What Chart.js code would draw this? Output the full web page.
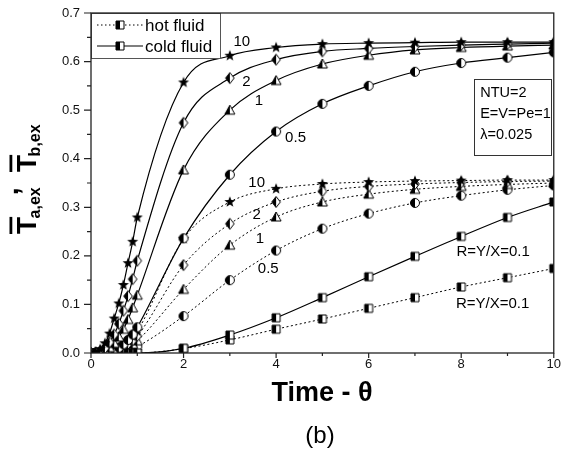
<!DOCTYPE html>
<html><head><meta charset="utf-8">
<script src="https://cdn.jsdelivr.net/npm/chart.js@4"></script>
<style>html,body{margin:0;padding:0;background:#fff}#wrap{width:561px;height:457px;position:relative}</style>
</head><body><div id="wrap"><canvas id="c" width="561" height="457"></canvas></div>
<script>
// ---- data ----
const timeValues = [0,0.1,0.2,0.3,0.4,0.5,0.6,0.7,0.8,0.9,1,2,3,4,5,6,7,8,9,10];
const coldR10  = [0,0.002,0.008,0.020,0.040,0.071,0.102,0.140,0.185,0.229,0.279,0.557,0.612,0.629,0.636,0.638,0.639,0.640,0.640,0.640];
const coldR2   = [0,0.001,0.004,0.010,0.022,0.038,0.060,0.087,0.117,0.152,0.190,0.474,0.566,0.604,0.621,0.627,0.631,0.634,0.636,0.638];
const coldR1   = [0,0,0.002,0.005,0.011,0.020,0.033,0.049,0.069,0.093,0.119,0.377,0.500,0.561,0.595,0.613,0.624,0.629,0.632,0.634];
const coldR05  = [0,0,0.001,0.002,0.004,0.007,0.011,0.018,0.027,0.038,0.053,0.236,0.367,0.456,0.513,0.550,0.579,0.597,0.608,0.619];
const coldR01  = [0,0,0,0,0,0,0,0,0,0,0,0.0096,0.037,0.0725,0.114,0.157,0.199,0.240,0.279,0.311];
const hotR10   = [0,0,0.001,0.002,0.004,0.007,0.011,0.017,0.025,0.034,0.045,0.235,0.311,0.338,0.348,0.352,0.354,0.355,0.356,0.356];
const hotR2    = [0,0,0,0.001,0.003,0.005,0.008,0.013,0.019,0.026,0.035,0.181,0.266,0.311,0.333,0.343,0.348,0.351,0.353,0.354];
const hotR1    = [0,0,0,0.001,0.002,0.003,0.005,0.008,0.012,0.018,0.025,0.131,0.222,0.280,0.311,0.327,0.337,0.343,0.347,0.350];
const hotR05   = [0,0,0,0,0.001,0.002,0.003,0.004,0.006,0.009,0.013,0.076,0.150,0.211,0.256,0.287,0.309,0.324,0.336,0.345];
const hotR01   = [0,0,0,0,0,0,0,0,0,0,0,0.009,0.027,0.049,0.070,0.092,0.114,0.136,0.155,0.174];
const xTickLabels = [0,2,4,6,8,10];
const yTickLabels = [0,0.1,0.2,0.3,0.4,0.5,0.6,0.7];
const legendLabels = ['hot fluid','cold fluid'];
const infoLines = ['NTU=2','E=V=Pe=1','\u03BB=0.025'];

// ---- markers ----
function marker(type){
  const S=14, c=7;
  const cv=document.createElement('canvas'); cv.width=S; cv.height=S;
  const g=cv.getContext('2d');
  g.lineWidth=1; g.strokeStyle='#000';
  let path;
  if(type==='star'){
    g.beginPath();
    for(let i=0;i<10;i++){
      const r=i%2?2.4:5.8, a=-Math.PI/2+i*Math.PI/5;
      const px=c+r*Math.cos(a), py=c+r*Math.sin(a);
      i?g.lineTo(px,py):g.moveTo(px,py);
    }
    g.closePath(); g.fillStyle='#000'; g.fill();
    return cv;
  }
  if(type==='diamond') path=()=>{g.beginPath();g.moveTo(c,c-5.5);g.lineTo(c+4.3,c);g.lineTo(c,c+5.5);g.lineTo(c-4.3,c);g.closePath();};
  if(type==='triangle') path=()=>{g.beginPath();g.moveTo(c,c-5);g.lineTo(c+5,c+4);g.lineTo(c-5,c+4);g.closePath();};
  if(type==='circle') path=()=>{g.beginPath();g.arc(c,c,4.5,0,Math.PI*2);};
  if(type==='square') path=()=>{g.beginPath();g.rect(c-4,c-4,8,8);};
  path(); g.fillStyle='#fff'; g.fill();
  g.save(); g.beginPath(); g.rect(0,0,c,S); g.clip(); path(); g.fillStyle='#000'; g.fill(); g.restore();
  path(); g.stroke();
  return cv;
}
const M={star:marker('star'),diamond:marker('diamond'),triangle:marker('triangle'),circle:marker('circle'),square:marker('square')};

function ds(label, vals, mk, hot){
  return {
    label, data: timeValues.map((t,i)=>({x:t,y:vals[i]})),
    borderColor:'#000', borderWidth: hot?1:1.2, borderDash: hot?[2,2.5]:[],
    pointStyle: M[mk], pointRadius:5, pointHoverRadius:5,
    cubicInterpolationMode:'monotone', fill:false
  };
}
const datasets=[
  ds('cold 10',coldR10,'star',false), ds('cold 2',coldR2,'diamond',false),
  ds('cold 1',coldR1,'triangle',false), ds('cold 0.5',coldR05,'circle',false),
  ds('cold fluid',coldR01,'square',false),
  ds('hot 10',hotR10,'star',true), ds('hot 2',hotR2,'diamond',true),
  ds('hot 1',hotR1,'triangle',true), ds('hot 0.5',hotR05,'circle',true),
  ds('hot fluid',hotR01,'square',true)
];

// curve labels in data coordinates
const curveLabels=[
  {t:'10',x:3.26,y:0.640},{t:'2',x:3.36,y:0.559},{t:'1',x:3.63,y:0.520},{t:'0.5',x:4.42,y:0.443},
  {t:'10',x:3.58,y:0.351},{t:'2',x:3.58,y:0.284},{t:'1',x:3.65,y:0.236},{t:'0.5',x:3.83,y:0.174},
  {t:'R=Y/X=0.1',x:8.69,y:0.208},{t:'R=Y/X=0.1',x:8.68,y:0.101}
];

const overlay={
  id:'overlay',
  afterDatasetsDraw(chart){
    const ctx=chart.ctx, xs=chart.scales.x, ys=chart.scales.y, a=chart.chartArea;
    ctx.save();
    // curve labels
    ctx.fillStyle='#000'; ctx.font='15px Arial'; ctx.textAlign='center'; ctx.textBaseline='middle';
    curveLabels.forEach(l=>ctx.fillText(l.t, xs.getPixelForValue(l.x), ys.getPixelForValue(l.y)));
    // info box
    const bx0=xs.getPixelForValue(8.27), bx1=xs.getPixelForValue(9.94);
    const by0=ys.getPixelForValue(0.565), by1=ys.getPixelForValue(0.409);
    ctx.fillStyle='#fff'; ctx.fillRect(bx0,by0,bx1-bx0,by1-by0);
    ctx.strokeStyle='#333'; ctx.lineWidth=1; ctx.strokeRect(Math.round(bx0)+0.5,Math.round(by0)+0.5,Math.round(bx1-bx0),Math.round(by1-by0));
    ctx.fillStyle='#000'; ctx.textAlign='left'; ctx.font='14.5px Arial';
    const infoY=[0.535,0.492,0.449];
    infoLines.forEach((s,i)=>ctx.fillText(s, xs.getPixelForValue(8.41), ys.getPixelForValue(infoY[i])));
    // legend box
    const lx=a.left, ly=a.top, lw=129, lh=45;
    ctx.fillStyle='#fff'; ctx.fillRect(lx,ly,lw,lh);
    ctx.strokeStyle='#555'; ctx.strokeRect(lx+0.5,ly+0.5,lw,lh);
    [0,1].forEach(i=>{
      const yy=ly+12+i*21;
      ctx.beginPath(); ctx.strokeStyle='#000';
      ctx.lineWidth=i===0?1:1.2; ctx.setLineDash(i===0?[1.5,2.5]:[]);
      ctx.moveTo(lx+6,yy); ctx.lineTo(lx+52,yy); ctx.stroke(); ctx.setLineDash([]);
      ctx.drawImage(M.square, lx+29-7, yy-7);
      ctx.fillStyle='#000'; ctx.font='17px Arial'; ctx.textAlign='left'; ctx.textBaseline='middle';
      ctx.fillText(legendLabels[i], lx+54, yy+1);
    });
    ctx.restore();
  },
  afterDraw(chart){
    const ctx=chart.ctx, xs=chart.scales.x, ys=chart.scales.y, a=chart.chartArea;
    ctx.save();
    ctx.strokeStyle='#222'; ctx.lineWidth=1.3;
    ctx.strokeRect(a.left, a.top, a.right-a.left, a.bottom-a.top);
    ctx.lineWidth=1.2;
    ctx.beginPath();
    for(let v=0; v<=10.001; v+=1){
      const px=xs.getPixelForValue(v); const L=(Math.round(v)%2===0)?5:3;
      ctx.moveTo(px,a.bottom); ctx.lineTo(px,a.bottom+L);
    }
    for(let k=0;k<=14;k++){
      const py=ys.getPixelForValue(k*0.05); const L=(k%2===0)?7:4;
      ctx.moveTo(a.left,py); ctx.lineTo(a.left-L,py);
    }
    ctx.stroke();
    // x title
    ctx.fillStyle='#000'; ctx.textAlign='center'; ctx.textBaseline='middle';
    ctx.font='bold 27px Arial';
    ctx.fillText('Time - \u03B8', 322, 394);
    ctx.font='24px Arial';
    ctx.fillText('(b)', 320, 436);
    // y title (rotated)
    ctx.rotate(-Math.PI/2);
    ctx.textAlign='left'; ctx.textBaseline='alphabetic';
    const big='bold 28px Arial', small='bold 16px Arial';
    const vb=36, vs=40;
    let u=-234;
    ctx.font=big; let tw=ctx.measureText('T').width;
    ctx.fillText('T',u,vb); ctx.fillRect(u,vb-26.5,tw,2.8);
    u+=tw-1.5;
    ctx.font=small; ctx.fillText('a,ex',u,vs); u+=ctx.measureText('a,ex').width;
    ctx.font=big; ctx.fillText(',',u-8,18);
    u=-172;
    ctx.font=big; ctx.fillText('T',u,vb); ctx.fillRect(u,vb-26.5,tw,2.8);
    u+=tw-1.5;
    ctx.font=small; ctx.fillText('b,ex',u,vs);
    ctx.restore();
  }
};

new Chart(document.getElementById('c'),{
  type:'line',
  data:{datasets},
  options:{
    responsive:false, animation:false, events:[],
    layout:{padding:{left:0,top:13,right:7,bottom:0}},
    plugins:{legend:{display:false},tooltip:{enabled:false}},
    scales:{
      x:{type:'linear',min:0,max:10,
        afterFit(s){s.height=104;},
        afterBuildTicks(s){s.ticks=xTickLabels.map(v=>({value:v}));},
        grid:{display:true,drawOnChartArea:false,drawTicks:true,tickLength:4,color:'rgba(0,0,0,0)'}, border:{display:false},
        ticks:{padding:0,color:'#111',font:{family:'Arial',size:13},maxRotation:0,autoSkip:false,callback:v=>String(v)}},
      y:{type:'linear',min:0,max:0.7,
        afterFit(s){s.width=91;},
        afterBuildTicks(s){s.ticks=yTickLabels.map(v=>({value:v}));},
        grid:{display:true,drawOnChartArea:false,drawTicks:true,tickLength:11,color:'rgba(0,0,0,0)'}, border:{display:false},
        ticks:{padding:0,color:'#111',font:{family:'Arial',size:13},autoSkip:false,callback:v=>Number(v).toFixed(1)}}
    }
  },
  plugins:[overlay]
});
</script></body></html>
